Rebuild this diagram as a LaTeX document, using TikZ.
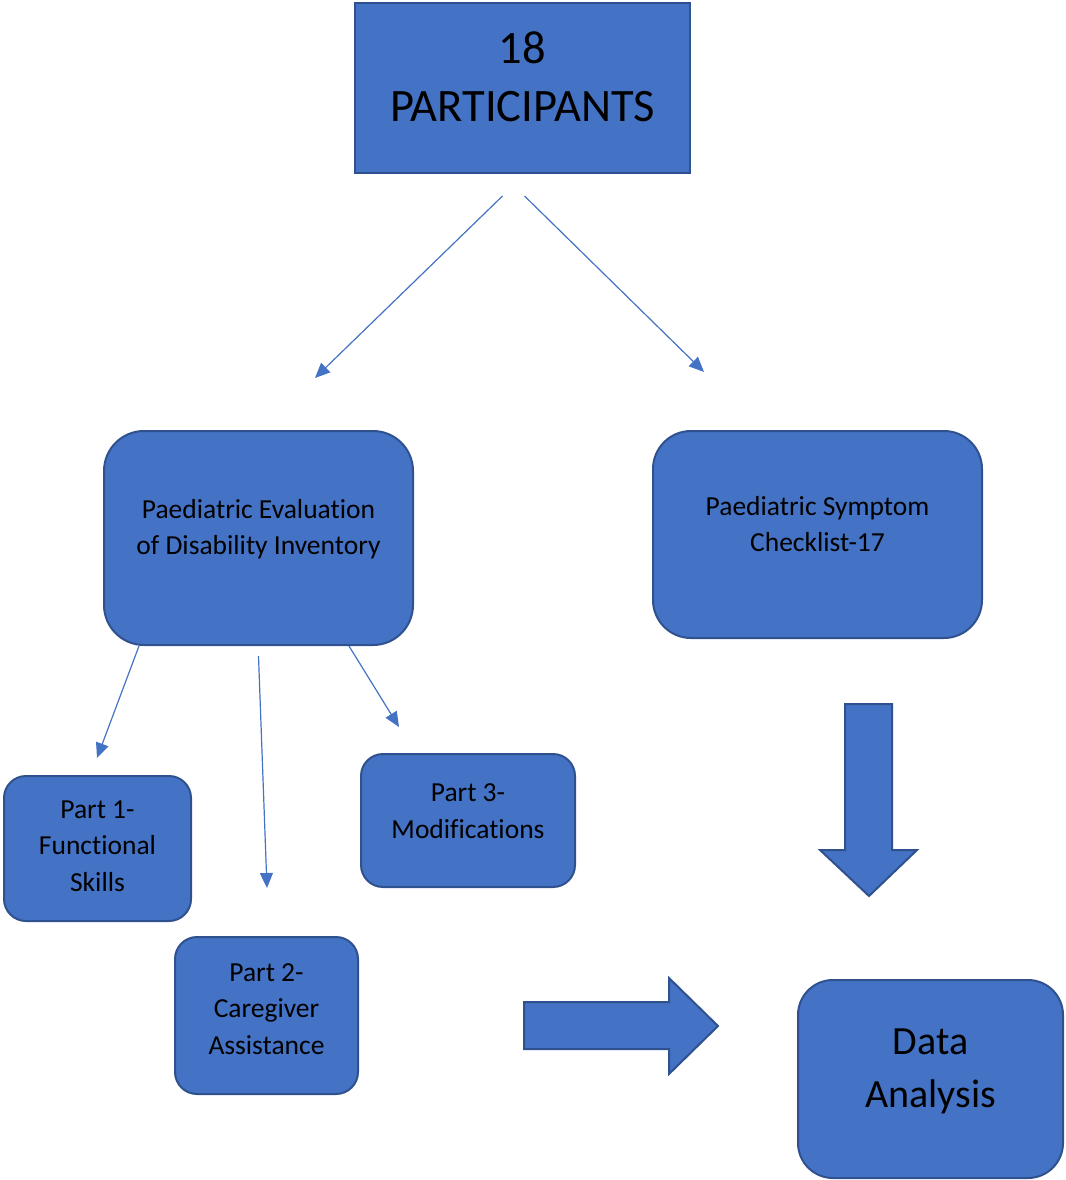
\documentclass[tikz,border=0pt]{standalone}
\usepackage{fontspec}
\setmainfont{Carlito}[RawFeature={-liga;-clig}]
\usetikzlibrary{arrows.meta}
\definecolor{boxblue}{HTML}{4472C4}
\definecolor{edgeblue}{HTML}{2F528F}
\tikzset{
  box/.style={draw=edgeblue, fill=boxblue, line width=2pt, inner sep=0pt},
  lbl/.style={align=center, text=black, font=\fontsize{27.5}{36.5}\selectfont},
  link/.style={draw=boxblue, line width=1.2pt, -{Triangle[length=15pt,width=13pt]}},
  fat/.style={draw=edgeblue, fill=boxblue, line width=2pt, line join=miter},
}
\begin{document}
\begin{tikzpicture}[x=1pt,y=-1pt]
  \useasboundingbox (0,0) rectangle (1065,1180);
  % boxes
  \node[box, minimum width=335, minimum height=170] (top) at (522.5,88) {};
  \node[lbl, font=\fontsize{46.5}{58}\selectfont] (toptxt) at (522.5,77) {18\\PARTICIPANTS};

  \node[box, rounded corners=40pt, minimum width=309, minimum height=214] (pedi) at (258.5,538) {};
  \node[lbl] (peditxt) at (258.5,529) {Paediatric Evaluation\\of Disability Inventory};

  \node[box, rounded corners=38pt, minimum width=329, minimum height=207] (psc) at (817.5,534.5) {};
  \node[lbl] (psctxt) at (817.5,524) {Paediatric Symptom\\Checklist-17};

  \node[box, rounded corners=22pt, minimum width=187, minimum height=145] (part1) at (97.5,848.5) {};
  \node[lbl] (part1txt) at (97.5,846) {Part 1-\\Functional\\Skills};

  \node[box, rounded corners=22pt, minimum width=183, minimum height=157] (part2) at (266.5,1015.5) {};
  \node[lbl] (part2txt) at (266.5,1009) {Part 2-\\Caregiver\\Assistance};

  \node[box, rounded corners=22pt, minimum width=214, minimum height=133] (part3) at (468,820.5) {};
  \node[lbl] (part3txt) at (468,811) {Part 3-\\Modifications};

  \node[box, rounded corners=35pt, minimum width=265, minimum height=198] (data) at (930.5,1079) {};
  \node[lbl, font=\fontsize{40}{53}\selectfont] (datatxt) at (930.5,1071) {Data\\Analysis};

  % thin arrows
  \coordinate (toL) at (315,378);
  \coordinate (toR) at (704,372);
  \coordinate (to1) at (97,758);
  \coordinate (to2) at (267,888);
  \coordinate (to3) at (399,727);
  \draw[link] ([xshift=-20pt,yshift=-22pt]top.south) -- (toL);
  \draw[link] ([xshift=2pt,yshift=-22pt]top.south) -- (toR);
  \draw[link] ([xshift=36pt]pedi.south west) -- (to1);
  \draw[link] ([yshift=-10pt]pedi.south) -- (to2);
  \draw[link] ([xshift=-65pt]pedi.south east) -- (to3);

  % block arrows
  \draw[fat] (845,704) -- (892,704) -- (892,850) -- (917,850) -- (869,896) -- (820,850) -- (845,850) -- cycle;
  \draw[fat] (524,1002) -- (669,1002) -- (669,978) -- (718,1026) -- (669,1074) -- (669,1049) -- (524,1049) -- cycle;
\end{tikzpicture}
\end{document}
